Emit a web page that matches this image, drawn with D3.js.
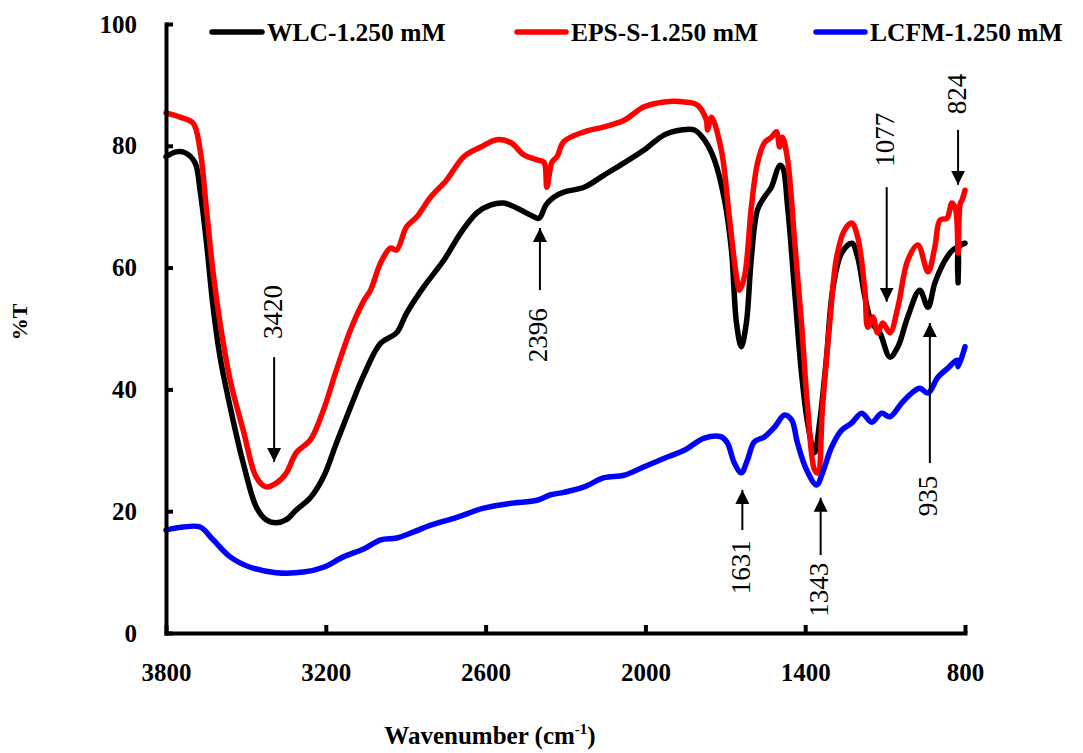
<!DOCTYPE html>
<html>
<head>
<meta charset="utf-8">
<script src="https://cdn.jsdelivr.net/npm/d3@7"></script>
<style>
  body { margin: 0; background: #fff; }
  svg { display: block; }
  .tick text { font-family: "Liberation Serif", serif; font-weight: bold; font-size: 25px; fill: #000; }
</style>
</head>
<body>
<div id="chart"></div>
<script>
// wavenumber (cm-1), %T
const wlc = [[3800,78.2],[3762,79.0],[3725,78.8],[3691,77.2],[3672,72.7],[3649,64.5],[3623,53.5],[3597,45.3],[3559,37.1],[3510,27.9],[3461,20.7],[3424,18.6],[3386,18.1],[3348,18.6],[3311,20.2],[3258,22.2],[3209,25.6],[3160,31.2],[3107,37.1],[3058,42.3],[2994,47.6],[2934,49.3],[2897,52.5],[2833,56.8],[2757,61.2],[2693,65.7],[2633,69.0],[2580,70.3],[2532,70.6],[2483,69.8],[2430,68.6],[2400,68.1],[2373,70.3],[2343,71.6],[2306,72.4],[2230,73.2],[2155,75.2],[2080,77.2],[2005,79.3],[1929,81.8],[1865,82.6],[1816,82.6],[1779,81.0],[1741,77.7],[1703,71.1],[1677,62.9],[1658,50.9],[1640,47.0],[1621,50.9],[1602,61.7],[1579,69.5],[1553,71.6],[1527,73.2],[1496,76.8],[1485,76.5],[1466,70.0],[1440,56.3],[1414,42.7],[1391,34.5],[1365,29.6],[1346,34.5],[1320,45.3],[1297,56.3],[1263,62.4],[1225,64.0],[1203,61.7],[1176,55.2],[1150,50.9],[1120,49.3],[1082,45.3],[1052,47.0],[1015,51.9],[970,56.3],[939,53.5],[913,57.5],[875,61.2],[845,62.9],[830,63.2],[826,57.5],[822,63.4],[800,64.0]];

const eps = [[3800,85.4],[3747,84.7],[3698,83.7],[3672,79.3],[3649,70.0],[3623,59.1],[3597,50.9],[3559,41.5],[3510,33.3],[3461,25.6],[3424,24.0],[3386,24.6],[3348,26.3],[3311,29.6],[3258,31.7],[3209,36.6],[3160,43.2],[3107,49.8],[3058,54.5],[3032,56.3],[2994,60.8],[2957,63.2],[2934,62.9],[2897,66.7],[2859,68.3],[2806,71.6],[2746,74.4],[2682,78.2],[2618,79.8],[2558,81.0],[2505,80.5],[2456,78.5],[2407,77.7],[2381,77.3],[2370,73.2],[2351,77.3],[2332,78.2],[2306,80.7],[2230,82.3],[2155,83.1],[2080,84.2],[2005,86.4],[1929,87.2],[1854,87.2],[1805,86.7],[1771,84.2],[1767,82.6],[1752,84.7],[1715,79.3],[1685,68.3],[1658,58.5],[1647,56.3],[1628,58.5],[1602,70.0],[1579,77.2],[1553,80.5],[1527,81.4],[1508,82.3],[1496,79.8],[1485,81.4],[1466,77.7],[1440,64.5],[1414,50.9],[1391,37.1],[1365,26.8],[1353,26.3],[1335,37.1],[1308,50.9],[1282,61.7],[1252,66.2],[1225,67.3],[1203,65.0],[1176,56.3],[1165,50.2],[1146,51.9],[1128,49.3],[1109,50.9],[1082,49.3],[1052,53.5],[1015,61.2],[977,63.7],[939,59.3],[913,63.4],[894,67.8],[868,68.1],[849,70.6],[835,69.5],[826,62.4],[818,70.5],[811,71.1],[800,72.7]];

const lcfm = [[3800,16.9],[3736,17.4],[3672,17.4],[3623,15.3],[3559,12.5],[3484,10.8],[3386,9.9],[3284,10.0],[3209,10.8],[3134,12.5],[3058,13.8],[2994,15.3],[2934,15.6],[2870,16.6],[2806,17.7],[2708,19.0],[2607,20.5],[2505,21.3],[2407,21.8],[2355,22.7],[2306,23.1],[2230,24.0],[2155,25.5],[2080,25.9],[2005,27.3],[1929,28.7],[1854,30.0],[1779,32.0],[1715,32.2],[1692,31.2],[1666,27.9],[1640,26.3],[1617,28.4],[1591,31.4],[1553,32.2],[1515,33.8],[1478,35.8],[1451,35.0],[1429,31.2],[1395,26.8],[1357,24.3],[1335,26.3],[1301,30.5],[1263,33.3],[1225,34.5],[1188,36.1],[1150,34.6],[1113,36.1],[1082,35.5],[1037,37.8],[1000,39.4],[970,40.2],[939,39.4],[902,42.0],[864,43.5],[830,44.8],[826,43.7],[800,47.0]];

const seriesNames = ["WLC-1.250 mM", "EPS-S-1.250 mM", "LCFM-1.250 mM"];
const seriesColors = ["#000000", "#ff0000", "#0000ff"];

const xTicks = [3800, 3200, 2600, 2000, 1400, 800];
const yTicks = [0, 20, 40, 60, 80, 100];

// peak labels: label, arrow position, arrow tail, arrow tip, label centre (%T)
const peakLabels = ["3420", "2396", "1077", "824", "1631", "1343", "935"];
const peakPos    = [3394, 2396, 1094, 826, 1636, 1342, 932];
const arrowTail  = [45.3, 56.3, 73.2, 82.6, 16.9, 12.8, 27.9];
const arrowTip   = [28.1, 66.5, 54.4, 73.6, 23.5, 22.2, 50.9];
const labelAt    = [52.7, 48.9, 81.0, 88.5, 10.8, 7.1, 22.5];

const W = 1083, H = 753;

const svg = d3.select("#chart")
  .append("svg")
  .attr("width", W)
  .attr("height", H);

svg.append("rect").attr("width", W).attr("height", H).attr("fill", "#fff");

const x = d3.scaleLinear().domain([3800, 800]).range([166, 965]);
const y = d3.scaleLinear().domain([0, 100]).range([633, 24]);

const line = d3.line()
  .x(d => x(d[0]))
  .y(d => y(d[1]))
  .curve(d3.curveCatmullRom.alpha(0.5));

// spectra
[wlc, eps, lcfm].forEach((s, i) => {
  svg.append("path")
    .datum(s)
    .attr("fill", "none")
    .attr("stroke", seriesColors[i])
    .attr("stroke-width", 5.5)
    .attr("stroke-linejoin", "round")
    .attr("stroke-linecap", "round")
    .attr("d", line);
});

// axes
const xAxis = svg.append("g")
  .attr("transform", `translate(0,${y(0)})`)
  .call(d3.axisBottom(x).tickValues(xTicks).tickFormat(d3.format("d"))
    .tickSizeInner(-8).tickSizeOuter(0).tickPadding(30));

const yAxis = svg.append("g")
  .attr("transform", `translate(${x(3800)},0)`)
  .call(d3.axisLeft(y).tickValues(yTicks).tickFormat(d3.format("d"))
    .tickSizeInner(-7).tickSizeOuter(0).tickPadding(29));

[xAxis, yAxis].forEach(g => {
  g.select(".domain").attr("stroke", "#000").attr("stroke-width", 4).attr("stroke-linecap", "square");
  g.selectAll(".tick line").attr("stroke", "#000").attr("stroke-width", 4);
});

// peak arrows
const defs = svg.append("defs");
defs.append("marker")
  .attr("id", "head")
  .attr("viewBox", "0 0 10 10")
  .attr("refX", 10).attr("refY", 5)
  .attr("markerWidth", 7).attr("markerHeight", 7.5)
  .attr("markerUnits", "strokeWidth")
  .attr("orient", "auto")
  .append("path")
  .attr("d", "M0,0L10,5L0,10Z")
  .attr("fill", "#000");

peakLabels.forEach((lab, i) => {
  svg.append("line")
    .attr("x1", x(peakPos[i])).attr("x2", x(peakPos[i]))
    .attr("y1", y(arrowTail[i])).attr("y2", y(arrowTip[i]))
    .attr("stroke", "#000")
    .attr("stroke-width", 2)
    .attr("marker-end", "url(#head)");

  svg.append("text")
    .attr("transform", `translate(${x(peakPos[i]) - 2},${y(labelAt[i])}) rotate(-90)`)
    .attr("text-anchor", "middle")
    .attr("dy", "0.35em")
    .style("font-family", "Liberation Serif, serif")
    .style("font-size", "27px")
    .text(lab);
});

// legend
const legendLines = [[212, 262], [517, 566], [816, 865]];
seriesNames.forEach((name, i) => {
  const g = svg.append("g");
  g.append("line")
    .attr("x1", legendLines[i][0]).attr("x2", legendLines[i][1])
    .attr("y1", 32).attr("y2", 32)
    .attr("stroke", seriesColors[i])
    .attr("stroke-width", 5.5)
    .attr("stroke-linecap", "round");
  g.append("text")
    .attr("x", legendLines[i][1] + 5)
    .attr("y", 41)
    .style("font-family", "Liberation Serif, serif")
    .style("font-weight", "bold")
    .style("font-size", "25.5px")
    .text(name);
});

// axis titles
const xt = svg.append("text")
  .attr("x", 490)
  .attr("y", 744)
  .attr("text-anchor", "middle")
  .style("font-family", "Liberation Serif, serif")
  .style("font-weight", "bold")
  .style("font-size", "25px");
xt.append("tspan").text("Wavenumber (cm");
xt.append("tspan").attr("dy", -10).style("font-size", "15px").text("-1");
xt.append("tspan").attr("dy", 10).text(")");

svg.append("text")
  .attr("transform", "translate(27,322) rotate(-90)")
  .attr("text-anchor", "middle")
  .style("font-family", "Liberation Serif, serif")
  .style("font-weight", "bold")
  .style("font-size", "22px")
  .text("%T");
</script>
</body>
</html>
